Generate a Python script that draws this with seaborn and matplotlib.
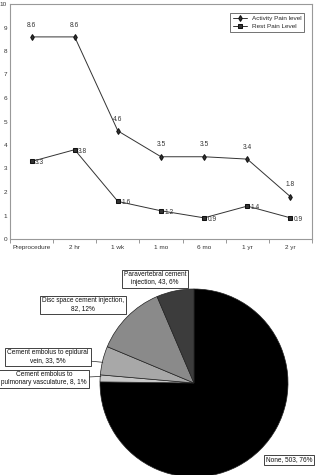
import matplotlib
matplotlib.use("Agg")
import matplotlib.pyplot as plt
import seaborn as sns
import pandas as pd

# data
periods = ["Preprocedure", "2 hr", "1 wk", "1 mo", "6 mo", "1 yr", "2 yr"]
activity_pain = [8.6, 8.6, 4.6, 3.5, 3.5, 3.4, 1.8]
rest_pain = [3.3, 3.8, 1.6, 1.2, 0.9, 1.4, 0.9]

complications = ["None", "Cement embolus to\npulmonary vasculature",
                 "Cement embolus to epidural\nvein", "Disc space cement injection,\n",
                 "Paravertebral cement\ninjection"]
counts = [503, 8, 33, 82, 43]
percents = [76, 1, 5, 12, 6]
pie_colors = ["#000000", "#c8c8c8", "#a8a8a8", "#8a8a8a", "#3c3c3c"]

sns.set_style("white")
plt.rcParams["font.family"] = ["Liberation Sans", "DejaVu Sans"]

fig = plt.figure(figsize=(3.22, 4.75), dpi=100)

# ---- line chart ----
ax = fig.add_axes([10 / 322, 1 - 239 / 475, 302 / 322, 235 / 475])
df = pd.DataFrame({"period": periods, "activity": activity_pain, "rest": rest_pain})
sns.lineplot(data=df, x="period", y="activity", ax=ax, color="#333333", lw=0.7,
             marker="d", markersize=3, markeredgecolor="#111111", sort=False,
             label="Activity Pain level")
sns.lineplot(data=df, x="period", y="rest", ax=ax, color="#333333", lw=0.7,
             marker="s", markersize=2.5, markeredgecolor="#111111", sort=False,
             label="Rest Pain Level")

for i, v in enumerate(activity_pain):
    ax.annotate(f"{v}", (i, v), xytext=(0, 6), textcoords="offset points",
                ha="center", va="bottom", fontsize=4.8, color="#333333")
for i, v in enumerate(rest_pain):
    ax.annotate(f"{v}", (i, v), xytext=(2.5, -1), textcoords="offset points",
                ha="left", va="center", fontsize=4.8, color="#333333")

ax.set_xlim(-0.5, 6.5)
ax.set_ylim(0, 10)
ax.set_yticks(range(0, 11))
ax.set_xticks(range(len(periods)))
ax.set_xticks([i + 0.5 for i in range(-1, 7)], minor=True)
ax.tick_params(axis="x", which="major", length=0, labelsize=4.6, pad=4, colors="#333333")
ax.tick_params(axis="x", which="minor", length=3, width=0.6, color="#888888", bottom=True)
ax.tick_params(axis="y", labelsize=4.6, length=0, pad=2, colors="#333333")
ax.set_xlabel("")
ax.set_ylabel("")
for s in ax.spines.values():
    s.set_color("#999999")
    s.set_linewidth(0.8)
leg = ax.legend(loc="upper right", fontsize=4.6, frameon=True, fancybox=False,
                borderpad=0.4, handlelength=2.2, labelspacing=0.4,
                bbox_to_anchor=(0.985, 0.975))
leg.get_frame().set_edgecolor("#333333")
leg.get_frame().set_linewidth(0.6)

# ---- pie chart ----
r_px = 94
pax = fig.add_axes([(194 - r_px) / 322, 1 - (383 + r_px) / 475, 2 * r_px / 322, 2 * r_px / 475])
wedges, _ = pax.pie(counts, colors=pie_colors, startangle=90, counterclock=False,
                    wedgeprops=dict(edgecolor="#222222", linewidth=0.5))
pax.set_xlim(-1, 1)
pax.set_ylim(-1, 1)
pax.set_aspect("equal")
pax.axis("off")
for w in wedges:
    w.set_clip_on(False)

label_pos = [(289, 460), (44, 379), (48, 357), (83, 305), (155, 279)]
anchor_pts = [None, (-0.99, 0.07), (-0.97, 0.22), None, None]
for name, n, p, (px, py), pt in zip(complications, counts, percents, label_pos, anchor_pts):
    if name.endswith("\n"):
        txt = f"{name}{n}, {p}%"
    else:
        txt = f"{name}, {n}, {p}%"
    box = dict(boxstyle="square,pad=0.3", fc="white", ec="#222222", lw=0.6)
    if pt is None:
        pax.annotate(txt, xy=(px, 475 - py), xycoords="figure pixels",
                     ha="center", va="center", fontsize=4.7, color="#111111",
                     annotation_clip=False, multialignment="center", bbox=box)
    else:
        pax.annotate(txt, xy=pt, xycoords="data",
                     xytext=(px, 475 - py), textcoords="figure pixels",
                     ha="center", va="center", fontsize=4.7, color="#111111",
                     annotation_clip=False, multialignment="center", bbox=box,
                     arrowprops=dict(arrowstyle="-", color="#222222", lw=0.5,
                                     shrinkA=0, shrinkB=0))

fig.savefig("out.png", dpi=100)
